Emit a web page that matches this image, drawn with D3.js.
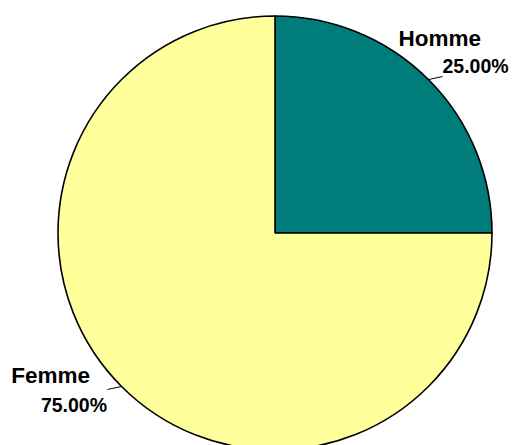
<!DOCTYPE html>
<html>
<head>
<meta charset="utf-8">
<script src="https://cdn.jsdelivr.net/npm/d3@7"></script>
<style>
  html, body { margin: 0; padding: 0; background: #fff; }
  svg { display: block; }
  .name { font: bold 22.5px "Liberation Sans", Arial, sans-serif; fill: #000; }
  .pct { font: bold 19.5px "Liberation Sans", Arial, sans-serif; fill: #000; }
</style>
</head>
<body>
<svg id="chart"></svg>
<script>
'use strict';

var categories = ['Homme', 'Femme'];
var values = [25, 75];
var percentLabels = ['25.00%', '75.00%'];
var sliceColors = ['#007d7b', '#ffff9c'];

var width = 513, height = 445;
var cx = 275, cy = 233, radius = 217;

var svg = d3.select('#chart')
  .attr('width', width)
  .attr('height', height);

var g = svg.append('g')
  .attr('transform', 'translate(' + cx + ',' + cy + ')');

var pie = d3.pie().sort(null).value(function (d) { return d; });
var arcs = pie(values);

var arc = d3.arc().innerRadius(0).outerRadius(radius);

g.selectAll('path.slice')
  .data(arcs)
  .enter()
  .append('path')
  .classed('slice', true)
  .attr('d', arc)
  .style('fill', function (d, i) { return sliceColors[i]; })
  .style('stroke', '#000')
  .style('stroke-width', 1.6)
  .style('stroke-linejoin', 'round');

// leader lines + labels
var labelOffsets = [
  {name: [-44, -31], pct: [0, -4], anchor: 'start'},
  {name: [-17.5, -6.5], pct: [-0.5, 22.5], anchor: 'end'}
];

arcs.forEach(function (d, i) {
  var mid = (d.startAngle + d.endAngle) / 2;
  var px = Math.sin(mid) * radius;
  var py = -Math.cos(mid) * radius;
  var side = px > 0 ? 1 : -1;
  var ex = px + side * 14;
  var ey = py - side * 3;

  g.append('line')
    .attr('x1', px).attr('y1', py)
    .attr('x2', ex).attr('y2', ey)
    .style('stroke', '#000')
    .style('stroke-width', 1);

  var off = labelOffsets[i];
  g.append('text')
    .classed('name', true)
    .attr('x', ex + off.name[0])
    .attr('y', ey + off.name[1])
    .attr('text-anchor', off.anchor)
    .text(categories[i]);

  g.append('text')
    .classed('pct', true)
    .attr('x', ex + off.pct[0])
    .attr('y', ey + off.pct[1])
    .attr('text-anchor', off.anchor)
    .text(percentLabels[i]);
});
</script>
</body>
</html>
